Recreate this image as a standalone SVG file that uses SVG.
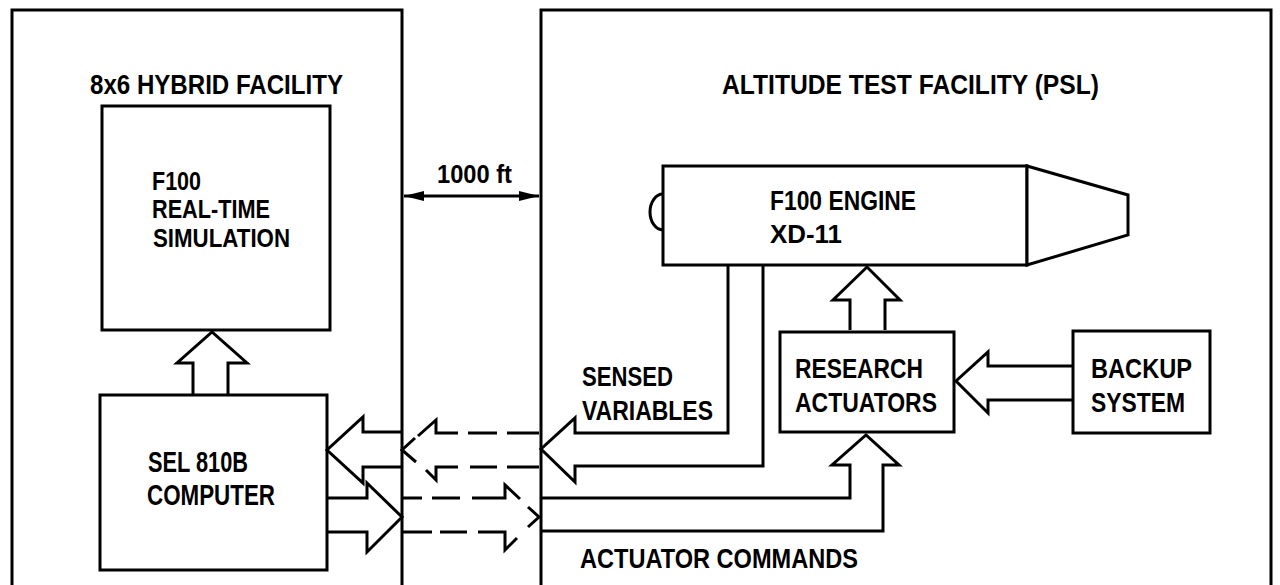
<svg xmlns="http://www.w3.org/2000/svg" width="1280" height="585" viewBox="0 0 1280 585">
  <style>
    .ln { fill: none; stroke: #000; stroke-width: 3; stroke-linejoin: miter; }
    .bx { fill: #fff; stroke: #000; stroke-width: 3; }
    .ar { fill: none; stroke: #000; stroke-width: 3; stroke-linejoin: miter; }
    .da { fill: none; stroke: #000; stroke-width: 3; stroke-linejoin: miter; }
    .t { font-family: "Liberation Sans", Arial, sans-serif; font-weight: bold; fill: #000; }
  </style>
  <defs>
    <marker id="ah" markerUnits="userSpaceOnUse" markerWidth="20" markerHeight="12" refX="20" refY="6" orient="auto-start-reverse">
      <path d="M0,1 L20,6 L0,11 z" fill="#000"/>
    </marker>
  </defs>
  <rect x="0" y="0" width="1280" height="585" fill="#fff"/>

  <g id="hybrid-facility">
    <path class="ln" d="M12,586 V10 H402 V586"/>
    <text class="t" x="90" y="94" font-size="27" textLength="253" lengthAdjust="spacingAndGlyphs">8x6 HYBRID FACILITY</text>
  </g>

  <g id="altitude-facility">
    <path class="ln" d="M541,586 V10 H1271 V586"/>
    <text class="t" x="722" y="94" font-size="27" textLength="377" lengthAdjust="spacingAndGlyphs">ALTITUDE TEST FACILITY (PSL)</text>
  </g>

  <g id="simulation">
    <rect class="bx" x="102" y="106" width="228" height="224"/>
    <text class="t" x="152" y="190" font-size="25" textLength="49" lengthAdjust="spacingAndGlyphs">F100</text>
    <text class="t" x="152" y="218" font-size="25" textLength="118" lengthAdjust="spacingAndGlyphs">REAL-TIME</text>
    <text class="t" x="153" y="247" font-size="25" textLength="137" lengthAdjust="spacingAndGlyphs">SIMULATION</text>
  </g>

  <g id="computer">
    <rect class="bx" x="100" y="395" width="227" height="175"/>
    <text class="t" x="148" y="472" font-size="29" textLength="100" lengthAdjust="spacingAndGlyphs">SEL 810B</text>
    <text class="t" x="147" y="505" font-size="29" textLength="128" lengthAdjust="spacingAndGlyphs">COMPUTER</text>
  </g>

  <g id="engine">
    <rect class="bx" x="663" y="166" width="364" height="99"/>
    <polygon class="bx" points="1027,166 1128,195 1128,235 1027,265"/>
    <path class="ln" d="M663,194 A13,18 0 0 0 663,230"/>
    <text class="t" x="770" y="210" font-size="28" textLength="146" lengthAdjust="spacingAndGlyphs">F100 ENGINE</text>
    <text class="t" x="770" y="243" font-size="26" textLength="72" lengthAdjust="spacingAndGlyphs">XD-11</text>
  </g>

  <g id="research-actuators">
    <rect class="bx" x="780" y="332" width="174" height="100"/>
    <text class="t" x="795" y="378" font-size="27" textLength="128" lengthAdjust="spacingAndGlyphs">RESEARCH</text>
    <text class="t" x="795" y="412" font-size="27" textLength="142" lengthAdjust="spacingAndGlyphs">ACTUATORS</text>
  </g>

  <g id="backup-system">
    <rect class="bx" x="1073" y="331" width="137" height="102"/>
    <text class="t" x="1091" y="378" font-size="27" textLength="101" lengthAdjust="spacingAndGlyphs">BACKUP</text>
    <text class="t" x="1091" y="412" font-size="27" textLength="94" lengthAdjust="spacingAndGlyphs">SYSTEM</text>
  </g>

  <g id="connectors">
    <path class="ar" d="M193,395 V363 H177 L212,332 L247,363 H228 V395"/>
    <path class="ar" d="M402,432 H363 V417 L327,450 L363,483 V467 H402"/>
    <path class="ar" d="M327,498 H367 V483 L402,517 L367,552 V532 H327"/>
    <!-- dashed link: sensed variables across the 1000 ft -->
    <path class="da" d="M418,436 L436,420 V433 H458 M468,433 H497 M507,433 H539 M415,438 L402,450 L416,462 M426,470 L436,480 V467 H458 M470,467 H497 M507,467 H539"/>
    <!-- dashed link: actuator commands across the 1000 ft -->
    <path class="da" d="M402,498 H422 M432,498 H460 M472,498 H505 V485 L520,499 M528,507 L539,517 L528,527 M402,532 H432 M440,532 H467 M478,532 H505 V550 L517,538"/>
    <path class="ar" d="M728,265 V433 H575 V418 L541,449 L575,482 V466 H763 V265"/>
    <text class="t" x="582" y="386" font-size="27" textLength="91" lengthAdjust="spacingAndGlyphs">SENSED</text>
    <text class="t" x="582" y="420" font-size="27" textLength="131" lengthAdjust="spacingAndGlyphs">VARIABLES</text>
    <path class="ar" d="M541,498 H850 V465 H832 L866,435 L899,465 H883 V531 H541"/>
    <text class="t" x="580" y="568" font-size="28" textLength="278" lengthAdjust="spacingAndGlyphs">ACTUATOR COMMANDS</text>
    <path class="ar" d="M850,330 V300 H833 L867,267 L900,300 H885 V330"/>
    <path class="ar" d="M1073,366 H988 V352 L956,381 L988,413 V400 H1073"/>
    <line x1="404" y1="196" x2="539" y2="196" stroke="#000" stroke-width="3" marker-start="url(#ah)" marker-end="url(#ah)"/>
    <text class="t" x="437" y="183" font-size="26" textLength="75" lengthAdjust="spacingAndGlyphs">1000 ft</text>
  </g>
</svg>
